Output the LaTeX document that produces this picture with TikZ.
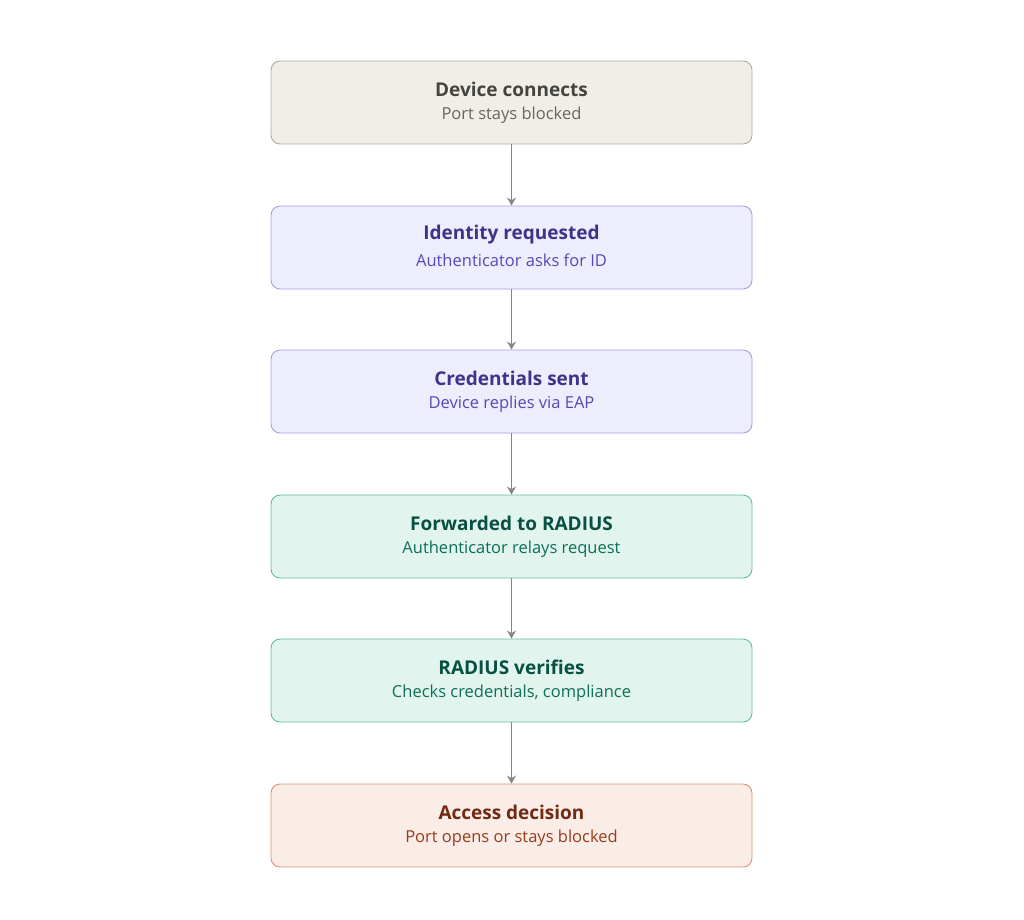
\documentclass[tikz,border=0pt]{standalone}
\usepackage{fontspec}
\setmainfont{Open Sans}
\usetikzlibrary{arrows.meta}
\begin{document}
\begin{tikzpicture}[x=1pt,y=-1pt,
  box/.style={draw=#1!70!white, line width=0.9pt, rounded corners=9pt, minimum width=481pt, minimum height=83pt, align=center},
  arr/.style={draw=black!48, line width=1.6pt, -{Stealth[length=8pt,width=9pt]}}]
\definecolor{gF}{HTML}{F1EEE8}\definecolor{gS}{HTML}{8A8780}\definecolor{gT}{HTML}{444441}\definecolor{gU}{HTML}{666660}
\definecolor{pF}{HTML}{EEEDFD}\definecolor{pS}{HTML}{7F77DD}\definecolor{pT}{HTML}{3C3489}\definecolor{pU}{HTML}{534AB7}
\definecolor{tF}{HTML}{E1F5EE}\definecolor{tS}{HTML}{1D9E75}\definecolor{tT}{HTML}{085041}\definecolor{tU}{HTML}{0F6E56}
\definecolor{rF}{HTML}{FAECE7}\definecolor{rS}{HTML}{C8643F}\definecolor{rT}{HTML}{712B13}\definecolor{rU}{HTML}{993C1D}
\useasboundingbox (0,0) rectangle (1024,919);
\newcommand{\mybox}[7]{\node[box=#2, fill=#3] (#1) at (511.5,#4) {};
  \node[text=#5, font=\fontsize{19}{22}\selectfont\bfseries] (#1t) at (511.5,#4-13) {#6};
  \node[text=#7, font=\fontsize{16.5}{20}\selectfont] (#1s) at (511.5,#4+13) {\csname sub#1\endcsname};}
\expandafter\def\csname suba\endcsname{Port stays blocked}
\expandafter\def\csname subb\endcsname{Authenticator asks for ID}
\expandafter\def\csname subc\endcsname{Device replies via EAP}
\expandafter\def\csname subd\endcsname{Authenticator relays request}
\expandafter\def\csname sube\endcsname{Checks credentials, compliance}
\expandafter\def\csname subf\endcsname{Port opens or stays blocked}
\mybox{a}{gS}{gF}{102.5}{gT}{Device connects}{gU}
\mybox{b}{pS}{pF}{247.5}{pT}{Identity requested}{pU}
\mybox{c}{pS}{pF}{391.5}{pT}{Credentials sent}{pU}
\mybox{d}{tS}{tF}{536.5}{tT}{Forwarded to RADIUS}{tU}
\mybox{e}{tS}{tF}{680.5}{tT}{RADIUS verifies}{tU}
\mybox{f}{rS}{rF}{825.5}{rT}{Access decision}{rU}
\draw[arr] (a.south) -- (b.north);
\draw[arr] (b.south) -- (c.north);
\draw[arr] (c.south) -- (d.north);
\draw[arr] (d.south) -- (e.north);
\draw[arr] (e.south) -- (f.north);
\end{tikzpicture}
\end{document}
